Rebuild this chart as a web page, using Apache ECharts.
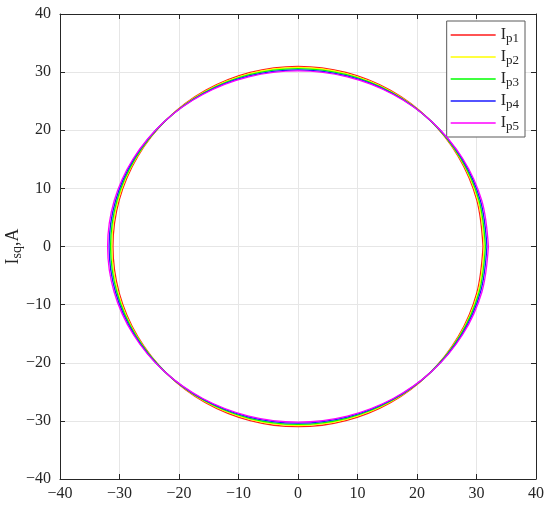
<!DOCTYPE html>
<html>
<head>
<meta charset="utf-8">
<script src="https://cdn.jsdelivr.net/npm/echarts@6/dist/echarts.min.js"></script>
<style>html,body{margin:0;padding:0;background:#fff}#c{width:550px;height:509px}</style>
</head>
<body>
<div id="c"></div>
<script>
const seriesNames = ['Ip1', 'Ip2', 'Ip3', 'Ip4', 'Ip5'];
const seriesColors = ['#ff1a1a', '#ffff00', '#00ff00', '#1a1aff', '#ff00ff'];
const axisTicks = [-40, -30, -20, -10, 0, 10, 20, 30, 40];

const Ip1x = [31.1, 30.04, 26.93, 21.99, 15.55, 8.05, 0, -8.05, -15.55, -21.99, -26.93, -30.04, -31.1, -30.04, -26.93, -21.99, -15.55, -8.05, 0, 8.05, 15.55, 21.99, 26.93, 30.04, 31.1];
const Ip1y = [0, 8.02, 15.5, 21.92, 26.85, 29.94, 31.0, 29.94, 26.85, 21.92, 15.5, 8.02, 0, -8.02, -15.5, -21.92, -26.85, -29.94, -31.0, -29.94, -26.85, -21.92, -15.5, -8.02, 0];
const Ip2x = [31.3, 30.23, 27.11, 22.13, 15.65, 8.10, 0, -8.10, -15.65, -22.13, -27.11, -30.23, -31.3, -30.23, -27.11, -22.13, -15.65, -8.10, 0, 8.10, 15.65, 22.13, 27.11, 30.23, 31.3];
const Ip2y = [0, 7.97, 15.4, 21.78, 26.67, 29.75, 30.8, 29.75, 26.67, 21.78, 15.4, 7.97, 0, -7.97, -15.4, -21.78, -26.67, -29.75, -30.8, -29.75, -26.67, -21.78, -15.4, -7.97, 0];
const Ip3x = [31.5, 30.43, 27.28, 22.27, 15.75, 8.15, 0, -8.15, -15.75, -22.27, -27.28, -30.43, -31.5, -30.43, -27.28, -22.27, -15.75, -8.15, 0, 8.15, 15.75, 22.27, 27.28, 30.43, 31.5];
const Ip3y = [0, 7.92, 15.3, 21.64, 26.5, 29.56, 30.6, 29.56, 26.5, 21.64, 15.3, 7.92, 0, -7.92, -15.3, -21.64, -26.5, -29.56, -30.6, -29.56, -26.5, -21.64, -15.3, -7.92, 0];
const Ip4x = [31.75, 30.67, 27.5, 22.45, 15.88, 8.22, 0, -8.22, -15.88, -22.45, -27.5, -30.67, -31.75, -30.67, -27.5, -22.45, -15.88, -8.22, 0, 8.22, 15.88, 22.45, 27.5, 30.67, 31.75];
const Ip4y = [0, 7.87, 15.2, 21.5, 26.33, 29.36, 30.4, 29.36, 26.33, 21.5, 15.2, 7.87, 0, -7.87, -15.2, -21.5, -26.33, -29.36, -30.4, -29.36, -26.33, -21.5, -15.2, -7.87, 0];
const Ip5x = [32, 30.91, 27.71, 22.63, 16, 8.28, 0, -8.28, -16, -22.63, -27.71, -30.91, -32, -30.91, -27.71, -22.63, -16, -8.28, 0, 8.28, 16, 22.63, 27.71, 30.91, 32];
const Ip5y = [0, 7.82, 15.1, 21.35, 26.15, 29.17, 30.2, 29.17, 26.15, 21.35, 15.1, 7.82, 0, -7.82, -15.1, -21.35, -26.15, -29.17, -30.2, -29.17, -26.15, -21.35, -15.1, -7.82, 0];

const xsList = [Ip1x, Ip2x, Ip3x, Ip4x, Ip5x];
const ysList = [Ip1y, Ip2y, Ip3y, Ip4y, Ip5y];

const FONT = '"Liberation Serif", "Times New Roman", serif';
const INK = '#262626';
const fmt = v => String(v).replace('-', '\u2212');

function zip(xs, ys) { return xs.map((x, i) => [x, ys[i]]); }

function makeAxis(pos, isX, showLabel) {
  return {
    type: 'value', position: pos,
    min: axisTicks[0], max: axisTicks[axisTicks.length - 1], interval: 10,
    axisLine: { show: true, onZero: false, lineStyle: { color: INK, width: 1 } },
    axisTick: { show: true, inside: true, length: 5, lineStyle: { color: INK } },
    axisLabel: { show: showLabel, formatter: fmt, color: INK, fontFamily: FONT, fontSize: 16, margin: isX ? 7 : 9 },
    splitLine: { show: showLabel, lineStyle: { color: '#e6e6e6', width: 1 } }
  };
}

const chart = echarts.init(document.getElementById('c'), null, { renderer: 'canvas' });
const xA = makeAxis('bottom', true, true);
const yA = makeAxis('left', false, true);
yA.name = '{i|I}{s|sq}{i|,A}';
yA.nameLocation = 'middle';
yA.nameGap = 38;
yA.nameMoveOverlap = false;
yA.nameTextStyle = {
  color: INK, fontFamily: FONT,
  rich: {
    i: { fontFamily: FONT, fontSize: 18, color: INK, lineHeight: 18 },
    s: { fontFamily: FONT, fontSize: 14, color: INK, lineHeight: 14, padding: [9, 0, 0, 0] }
  }
};

chart.setOption({
  animation: false,
  backgroundColor: '#fff',
  grid: { left: 60, right: 14, top: 14, bottom: 30, containLabel: false, outerBoundsMode: 'none' },
  xAxis: [xA, makeAxis('top', true, false)],
  yAxis: [yA, makeAxis('right', false, false)],
  legend: {
    data: seriesNames,
    orient: 'vertical',
    right: 25, top: 21,
    icon: 'rect', itemWidth: 45, itemHeight: 1.5, itemGap: 2,
    backgroundColor: '#fff',
    borderColor: '#5a5a5a', borderWidth: 1, borderRadius: 0,
    padding: [4, 6, 4, 4],
    formatter: n => '{i|I}{s|' + n.slice(1) + '}',
    textStyle: {
      color: INK, fontFamily: FONT,
      rich: {
        i: { fontFamily: FONT, fontSize: 16, color: INK, lineHeight: 16 },
        s: { fontFamily: FONT, fontSize: 13, color: INK, lineHeight: 13, padding: [7, 0, 0, 0] }
      }
    }
  },
  series: seriesNames.map((n, k) => ({
    name: n, type: 'line', xAxisIndex: 0, yAxisIndex: 0,
    data: zip(xsList[k], ysList[k]),
    smooth: 0.35, symbol: 'none', showSymbol: false,
    color: seriesColors[k],
    lineStyle: { color: seriesColors[k], width: 1.3 },
    z: 2 + k
  }))
});
</script>
</body>
</html>
